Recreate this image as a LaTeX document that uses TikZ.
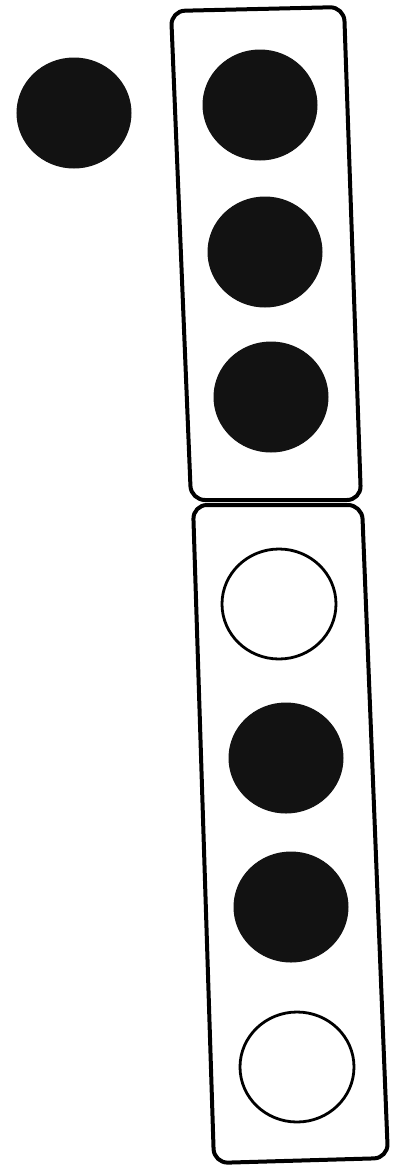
\documentclass[tikz,border=0pt]{standalone}
\usetikzlibrary{shapes.geometric}
\begin{document}
\begin{tikzpicture}[x=1pt,y=-1pt,
  dotbase/.style={ellipse,minimum width=114pt,minimum height=110pt,inner sep=0pt},
  blackdot/.style={dotbase,fill=black!93,draw=black!93,line width=1pt},
  whitedot/.style={dotbase,fill=white,draw=black,line width=2.8pt},
  frame/.style={draw=black,line width=4pt,rounded corners=14pt,line join=round}]
\useasboundingbox (0,0) rectangle (404,1171);
% top frame
\draw[frame] (171,11) -- (344,7) -- (361,500) -- (191,500) -- cycle;
% bottom frame
\draw[frame] (193,505) -- (362,505) -- (388,1158) -- (214,1163) -- cycle;
% dots
\node[blackdot] (l)  at (74,113) {};
\node[blackdot] (t1) at (260,105) {};
\node[blackdot] (t2) at (265,252) {};
\node[blackdot] (t3) at (271,397) {};
\node[whitedot] (b1) at (279,604) {};
\node[blackdot] (b2) at (286,758) {};
\node[blackdot] (b3) at (291,907) {};
\node[whitedot] (b4) at (297,1067) {};
\end{tikzpicture}
\end{document}
